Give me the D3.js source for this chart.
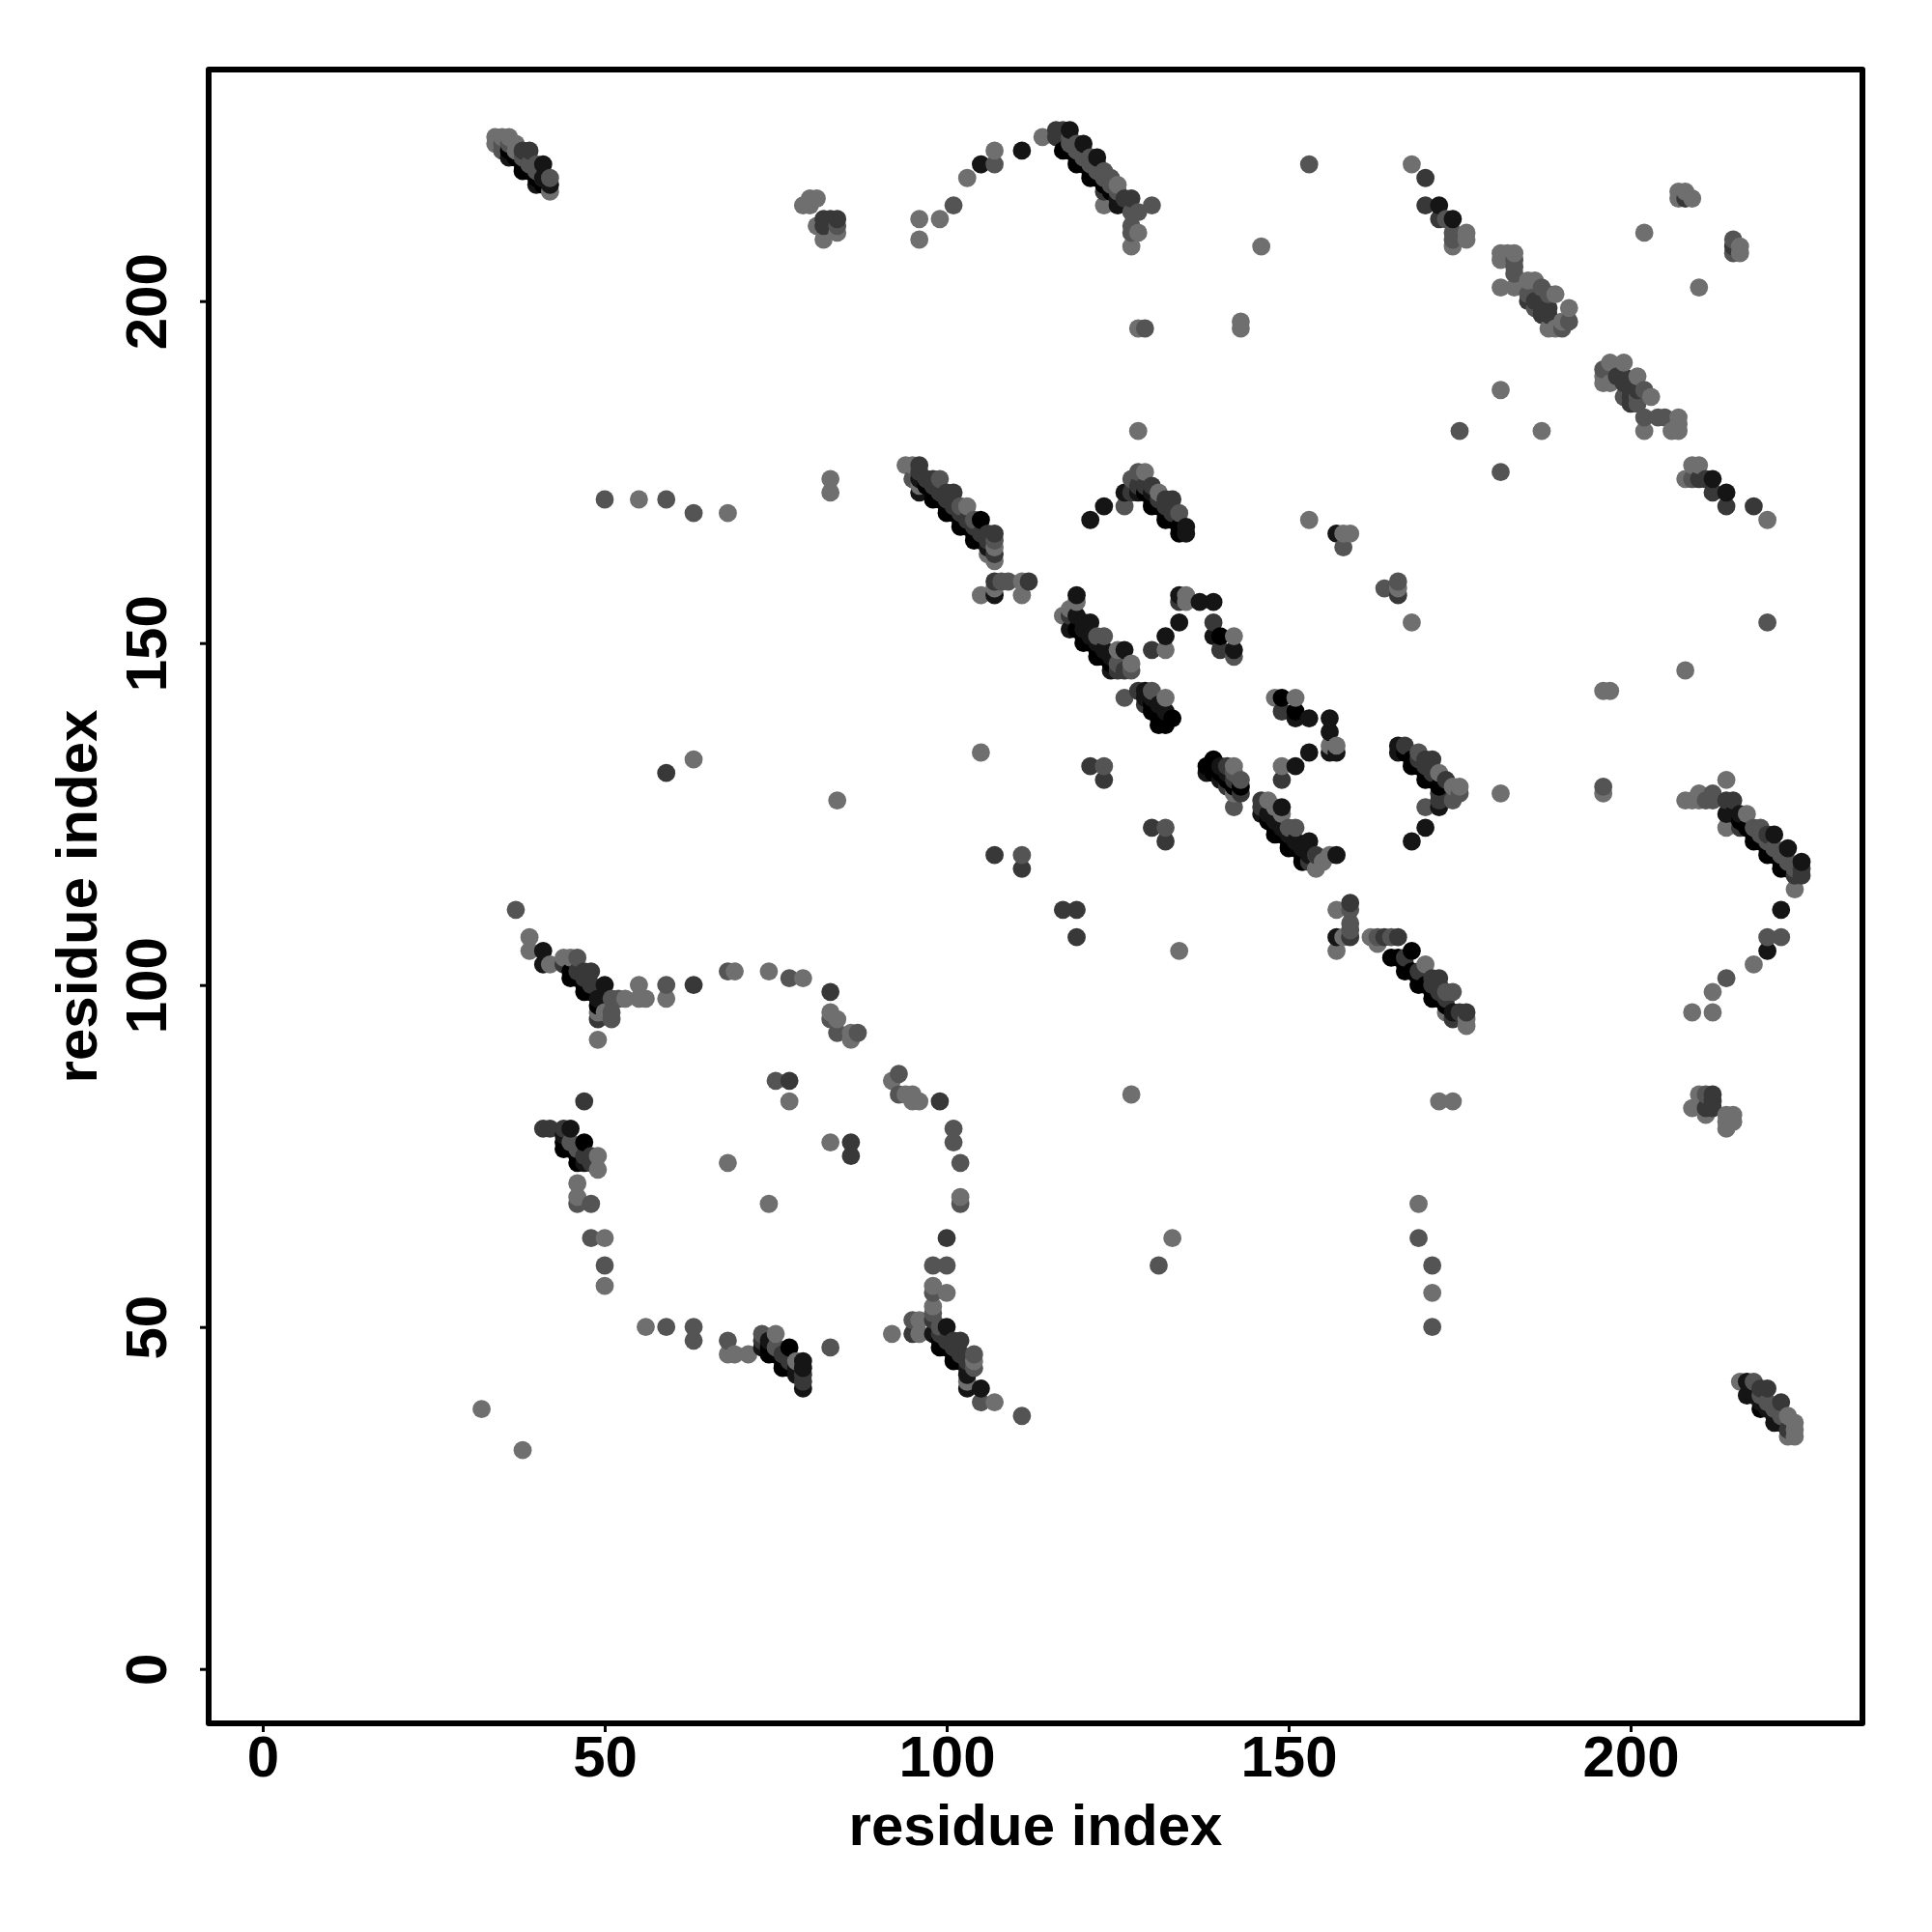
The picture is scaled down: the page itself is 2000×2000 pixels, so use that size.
<!DOCTYPE html>
<html><head><meta charset="utf-8">
<script src="https://cdn.jsdelivr.net/npm/d3@7"></script>
<style>html,body{margin:0;background:#fff}svg{display:block}text{font-family:"Liberation Sans",Arial,sans-serif;font-weight:700;fill:#000}</style>
</head><body><script>
// contact strength levels
const L=.05,M=.28,D=.52,K=.82,B=1;
const xTicks=[0,50,100,150,200], yTicks=[0,50,100,150,200];
const axisTitle="residue index";
// contacts partly hidden inside the dense ribbons
const ribbonsUpper=[[36,222,B],[37,221,B],[38,220,B],[39,219,B],[40,218,B],[41,217,B],[37,222,M],[38,221,M],[39,220,M],[40,219,M],[41,218,M],
[118,222,B],[118,223,M],[119,221,B],[119,222,M],[120,220,B],[120,221,M],[120,222,M],[121,219,B],[121,220,M],[122,218,B],[122,219,M],[122,220,M],[123,217,B],[123,218,M],[124,216,B],[124,217,M],[124,218,M],[125,215,K],[125,216,M],
[96,172,K],[97,173,B],[97,174,D],[98,172,B],[98,173,D],[99,171,B],[99,172,D],[100,170,B],[100,171,D],[101,169,B],[101,170,D],[102,167,B],[102,169,D],[102,170,M],[103,167,B],[103,168,D],[104,166,B],[104,167,D],[105,165,B],[105,166,D],[106,164,K],[106,165,D],
[128,172,K],[129,172,B],[129,173,D],[130,171,B],[130,172,K],[131,170,B],[131,171,D],[132,169,B],[132,170,D],[133,168,B],[133,169,D],[134,167,B]];
const ribbonsMiddle=[[119,152,B],[120,151,B],[120,152,K],[121,150,B],[121,151,K],[122,149,B],[122,150,K],[123,148,B],[123,149,K],[124,146,K],[124,147,B],[124,148,K],
[129,142,K],[130,141,B],[130,142,K],[131,139,B],[131,140,B],[132,140,K],
[139,131,B],[140,130,K],[140,132,K],[141,130,B],[141,131,K],[142,129,B],[142,130,D],[142,131,M],
[146,126,D],[147,124,B],[147,125,K],[148,123,B],[148,124,K],[149,122,B],[149,123,K],[150,121,B],[150,122,K],[151,120,B],[151,121,K],[152,119,B],[152,120,K],[153,119,K]];
const ribbonsLower=[[166,104,B],[167,103,B],[167,104,D],[168,102,B],[169,101,B],[169,102,D],[170,100,B],[171,99,B],[171,100,D],[172,98,B],[172,99,D],[172,100,D],[173,97,B],[173,98,D],[173,99,M],
[167,134,B],[168,133,B],[169,132,B],[169,133,D],[170,131,B],[170,132,D],[171,130,B],[171,131,D],[172,129,B],
[215,125,K],[216,124,B],[217,123,B],[218,122,B],[218,123,M],[219,121,B],[219,122,M],[220,120,B],[220,121,M],[221,119,B],[221,120,M],[222,118,B],[222,119,M],[223,117,B],[223,118,M],[224,117,M],
[218,40,K],[219,39,K],[219,40,M],[220,38,K],[220,39,M],[221,37,K],[221,38,M],[222,36,K],[222,37,M],
[49,97,B],[45,102,B],[46,101,B],[47,100,B],[48,99,B],[46,102,D],[47,101,D],[48,100,D],
[44,77,B],[45,76,B],[46,75,B],[47,74,K],[45,77,M],[46,76,M],[47,75,D],[48,75,D],
[73,47,K],[74,47,B],[75,46,B],[76,45,B],[78,43,K],[76,46,D],[77,45,D],[78,44,K],[79,43,D],
[99,48,B],[100,47,B],[101,46,B],[102,45,B],[103,43,K],[103,45,D],[102,46,D],[100,48,D],[101,47,D],[99,49,D],[99,50,M],
[185,200,D],[186,200,D],[187,200,D],[187,198,D],[188,199,D],[198,189,D],[199,188,D],[200,186,D],[200,187,D],[201,185,M],[201,186,M],[201,187,D]];
const topLeft=[[34,224,L],[34,223,L],[35,224,L],[35,222,M],[35,223,M],[36,224,L],[36,221,K],[36,223,M],[37,223,L],[37,222,L],[38,219,B],[38,222,D],[39,222,D],[39,220,M],[40,217,K],[40,220,M],[41,220,K],[41,218,K],[42,216,L],[42,217,K],[42,218,M],
[50,171,M],[55,171,L],[59,171,M],[63,169,M],[68,169,L],[83,174,L],[83,172,L],[79,214,L],[80,215,L],[81,215,L],[80,214,L],[81,211,L],[82,209,L],[82,211,D],[82,212,D],[83,212,D],[84,210,L],[84,211,M],[84,212,D]];
const arcTop=[[96,212,L],[96,209,L],[99,212,L],[101,214,M],[103,218,L],[105,220,K],[107,220,M],[107,222,L],[111,222,K],[114,224,L],[116,225,D],[116,224,D],[117,222,B],[117,225,D],[118,224,M],[118,225,K],[119,220,B],[119,223,M],[120,223,K],[121,218,B],[121,221,M],[122,221,K],[123,214,L],[123,216,D],[123,219,M],[125,214,K],[125,217,L],[126,215,D],[127,208,L],[127,210,M],[127,211,M],[127,213,M],[127,215,D],[128,210,L],[128,213,M],[130,214,M],[128,196,L],[129,196,M],[128,181,L],[143,197,L],[143,196,L],[146,208,L],[153,220,M]];
const bandUpper=[[94,176,L],[95,176,L],[95,174,M],[96,173,L],[96,174,K],[96,175,D],[96,176,D],[98,171,B],[98,174,D],[99,174,M],[100,169,B],[100,172,D],[101,172,D],[102,168,B],[103,170,L],[104,165,B],[104,168,M],[105,168,B],[106,163,L],[106,166,D],[107,157,K],[107,158,L],[107,159,D],[107,162,L],[107,163,D],[107,164,L],[107,165,M],[107,166,D],[105,157,L],[108,159,M],[109,159,M],[111,157,L],[111,159,L],[112,159,D],
[121,168,K],[123,170,K],[126,170,M],[126,172,K],[127,172,D],[127,174,M],[128,173,D],[128,175,M],[129,175,L],[130,170,B],[130,173,D],[131,172,L],[132,168,B],[132,171,D],[133,171,D],[134,166,B],[134,169,M],[135,166,K],[135,167,K],
[153,168,L],[157,166,K],[158,164,M],[158,166,L],[159,166,L]];
const bandMiddle=[[117,154,L],[118,152,K],[118,154,D],[118,155,L],[119,154,K],[119,156,L],[119,157,K],[120,150,B],[120,153,K],[121,153,K],[122,148,B],[122,151,M],[123,151,M],[125,146,D],[125,147,M],[125,149,L],[126,146,D],[126,149,K],[127,146,M],[127,147,L],
[130,149,D],[132,149,L],[132,151,K],[134,153,K],[134,156,D],[134,157,K],[135,156,L],[135,157,L],[137,156,K],[139,151,K],[139,153,D],[139,156,K],[140,149,D],[140,151,B],[142,148,M],[142,149,K],[142,151,L],
[126,142,M],[128,143,D],[129,141,D],[129,143,K],[130,140,B],[130,143,M],[131,138,B],[131,141,K],[132,138,B],[132,139,B],[132,142,L],[133,139,B],
[105,134,L],[121,132,D],[123,130,D],[123,132,M],[130,123,D],[132,121,D],[132,123,M],[107,119,D],[111,117,D],[111,119,M],[117,111,D],[119,111,D],[119,107,D],[134,105,L],[127,84,L]];
const bandLower=[[138,131,K],[138,132,B],[139,132,B],[139,133,B],[140,131,B],[141,129,D],[141,132,D],[142,126,M],[142,128,L],[142,132,L],[143,128,D],[143,129,B],[143,130,M],
[146,125,K],[146,127,D],[147,127,L],[148,122,B],[148,126,L],[149,125,L],[149,126,K],[150,120,B],[150,123,M],[151,123,M],[152,118,B],[153,118,D],[153,121,K],[154,117,L],[154,119,D],[155,118,L],[156,119,L],[157,119,K],
[148,142,L],[149,130,D],[149,132,L],[149,140,D],[149,142,B],[151,132,K],[151,139,K],[151,140,B],[151,142,L],[153,134,K],[153,139,K],[156,134,K],[156,135,L],[156,137,K],[156,139,K],[157,134,K],[157,135,L],
[164,158,M],[166,157,D],[166,158,L],[166,159,M],[168,153,L],[166,134,K],[166,135,K],[167,135,D],[168,132,B],[169,134,M],[170,126,M],[170,130,B],[170,133,D],[171,133,D],[172,126,K],[172,127,D],[172,128,D],[172,131,L],[173,130,D],[174,127,M],[174,129,L],[175,128,M],[175,129,L],[170,123,K],[168,121,K],[181,128,L],[196,128,L],[196,129,M]];
const bandRight=[[157,105,L],[157,107,K],[158,107,L],[157,111,L],[159,107,D],[159,108,M],[159,109,M],[159,111,M],[159,112,D],[162,107,L],[163,106,L],[163,107,M],[164,107,D],[165,104,B],[165,107,M],[166,107,D],[167,102,B],[168,105,B],[169,100,B],[170,103,L],[171,98,B],[171,101,D],[172,101,D],[173,96,L],[174,95,D],[174,96,K],[174,99,M],[175,96,D],[176,94,L],[176,95,L],[176,96,D],[172,83,L],[174,83,L],
[208,127,L],[209,127,L],[210,127,L],[210,128,L],[211,127,M],[212,127,M],[212,128,M],[214,123,L],[214,125,K],[214,127,D],[214,130,L],[215,127,D],[216,123,D],[216,125,K],[217,125,L],[218,121,B],[219,123,M],[220,119,B],[220,122,D],[221,122,K],[222,117,B],[223,120,K],[224,114,L],[224,116,D],[225,116,D],[225,117,D],[225,118,K],[222,111,K],[220,105,K],[220,107,M],[222,107,M],[218,103,L],[214,101,M],[212,99,L],[212,96,L],[209,96,L],
[209,82,L],[210,84,L],[211,81,L],[211,82,D],[211,84,M],[212,82,D],[212,83,D],[212,84,D],[214,79,L],[214,80,L],[214,81,L],[215,80,L],[215,81,L],
[216,42,L],[217,40,K],[217,42,K],[218,42,M],[219,38,B],[219,41,D],[220,41,D],[221,36,K],[222,39,D],[223,34,L],[223,35,D],[223,37,L],[224,34,L],[224,35,L],[224,36,L],
[220,153,M],[208,146,L],[196,143,L],[197,143,L]];
const upperRight=[[168,220,L],[170,218,D],[170,214,D],[172,212,D],[172,214,K],[173,212,M],[174,208,L],[174,209,M],[174,210,M],[174,212,K],[176,209,L],[176,210,L],
[181,202,L],[181,206,L],[181,207,L],[182,207,L],[183,202,L],[183,204,M],[183,205,M],[183,206,M],[183,207,L],[185,201,M],[185,203,L],[186,199,M],[186,203,L],[187,199,D],[187,202,M],[188,196,L],[188,198,D],[188,201,M],[189,196,L],[189,201,L],[190,196,M],[190,197,L],[191,197,M],[191,199,L],
[181,187,L],[175,181,M],[187,181,L],[181,175,M],[210,202,L],[202,210,L],[207,215,L],[207,216,L],[208,215,D],[208,216,L],[209,215,L],[215,207,M],[215,208,D],[215,209,M],[216,207,L],[216,208,L],
[196,188,L],[196,189,L],[196,190,M],[197,188,L],[197,191,L],[199,186,M],[199,189,D],[199,191,L],[200,185,D],[201,189,L],[202,181,L],[202,183,M],[202,187,M],[203,186,L],[204,183,M],[205,183,M],[206,181,L],[207,181,L],[207,182,L],[207,183,L],
[208,174,L],[209,174,M],[209,176,L],[210,174,D],[210,176,L],[211,174,D],[212,172,D],[212,174,K],[214,170,D],[214,172,K],[218,170,D],[220,168,L]];
const lowerLeft=[[37,111,M],[39,105,L],[39,107,L],[41,103,K],[41,105,K],[42,103,L],[44,103,D],[44,104,L],[45,101,B],[45,104,L],[46,104,M],[47,99,B],[47,102,D],[48,102,D],[49,92,L],[49,95,D],[49,96,L],[49,98,K],[50,96,L],[50,100,K],[51,95,M],[51,96,M],[51,98,M],[52,98,M],[53,98,L],[55,98,L],[55,100,L],[56,98,L],[59,98,L],[59,100,M],[63,100,D],[68,102,M],[69,102,L],[74,102,L],[77,101,M],[79,101,L],[83,99,D],[83,95,M],[83,96,L],[84,93,M],[84,95,L],[86,92,L],[86,93,L],[87,93,M],
[47,83,D],[41,79,D],[42,79,D],[44,76,B],[44,78,K],[44,79,D],[45,79,K],[46,68,M],[46,69,L],[46,71,L],[46,74,B],[47,77,B],[48,63,M],[48,68,M],[48,74,D],[49,73,L],[49,75,L],[50,56,L],[50,59,M],[50,63,L],
[75,86,M],[77,83,L],[77,86,D],[83,77,L],[86,75,D],[86,77,D],[68,74,L],[74,68,L],[59,131,D],[63,133,L],[84,127,L],[32,38,L],[38,32,L],[169,68,L],[169,63,M],[171,59,M],[171,55,L],[171,50,M],[133,63,L],[131,59,M]];
const arcBottom=[[92,86,L],[93,84,M],[93,87,M],[94,84,L],[95,83,L],[95,84,L],[96,83,L],[99,83,D],[101,77,M],[101,79,M],[102,74,M],[102,68,M],[102,69,L],[100,63,D],[98,59,M],[100,59,M],[98,55,M],[98,56,L],[100,55,L],[98,51,D],[98,52,M],[98,53,L],[92,49,L],[95,49,D],[95,51,M],[96,49,L],[96,51,L],[98,49,K],[99,47,B],[100,50,K],[101,45,B],[101,48,D],[102,48,D],[103,41,K],[103,42,L],[103,44,K],[104,44,M],[104,45,L],[104,46,M],[105,39,M],[105,41,K],[107,39,L],[111,37,M],
[56,50,L],[59,50,M],[63,48,M],[63,50,M],[68,46,L],[68,48,M],[69,46,L],[71,46,L],[73,48,D],[73,49,M],[74,46,B],[74,48,K],[75,47,M],[75,49,L],[76,44,B],[77,44,B],[77,47,B],[78,45,L],[79,41,K],[79,42,D],[79,44,K],[79,45,K],[83,47,M]];

const contacts=[...ribbonsUpper,...ribbonsMiddle,...ribbonsLower,...topLeft,...arcTop,...bandUpper,...bandMiddle,...bandLower,...bandRight,...upperRight,...lowerLeft,...arcBottom]
  .sort((a,b)=>d3.ascending(a[0],b[0])||d3.ascending(a[1],b[1]));

const W=2000,H=2000,frame={l:216,r:1928,t:72,b:1784};
const x=d3.scaleLinear().domain([0,200]).range([272,1688]);
const y=d3.scaleLinear().domain([0,200]).range([1727.7,311.7]);
const shade=d3.scaleLinear().domain([0,1]).range(["#757575","#000000"]);

const svg=d3.select("body").append("svg").attr("width",W).attr("height",H);
svg.append("rect").attr("width",W).attr("height",H).attr("fill","#fff");

svg.append("g").selectAll("circle").data(contacts).join("circle")
  .attr("cx",d=>x(d[0])).attr("cy",d=>y(d[1])).attr("r",9.4).attr("fill",d=>shade(d[2]));

svg.append("rect").attr("x",frame.l).attr("y",frame.t).attr("width",frame.r-frame.l).attr("height",frame.b-frame.t)
  .attr("fill","none").attr("stroke","#000").attr("stroke-width",6).attr("stroke-linejoin","round");

const gx=svg.append("g").attr("transform",`translate(0,${frame.b})`)
  .call(d3.axisBottom(x).tickValues(xTicks).tickSize(9).tickPadding(0).tickFormat(d3.format("d")));
gx.select(".domain").remove();
gx.selectAll("line").attr("stroke","#000").attr("stroke-width",3);
gx.selectAll("text").attr("y",55).attr("dy",0).attr("font-size",60).attr("fill","#000");

const gy=svg.append("g").attr("transform",`translate(${frame.l},0)`)
  .call(d3.axisLeft(y).tickValues(yTicks).tickSize(9).tickPadding(0).tickFormat(d3.format("d")));
gy.select(".domain").remove();
gy.selectAll("line").attr("stroke","#000").attr("stroke-width",3);
gy.selectAll("text").attr("x",null).attr("dy",0).attr("font-size",60).attr("fill","#000")
  .attr("text-anchor","middle").attr("transform","translate(-44,0) rotate(-90)");

svg.append("text").attr("x",(frame.l+frame.r)/2).attr("y",1910).attr("text-anchor","middle").attr("font-size",60).text(axisTitle);
svg.append("text").attr("transform",`translate(100,${(frame.t+frame.b)/2}) rotate(-90)`).attr("text-anchor","middle").attr("font-size",60).text(axisTitle);
</script></body></html>
